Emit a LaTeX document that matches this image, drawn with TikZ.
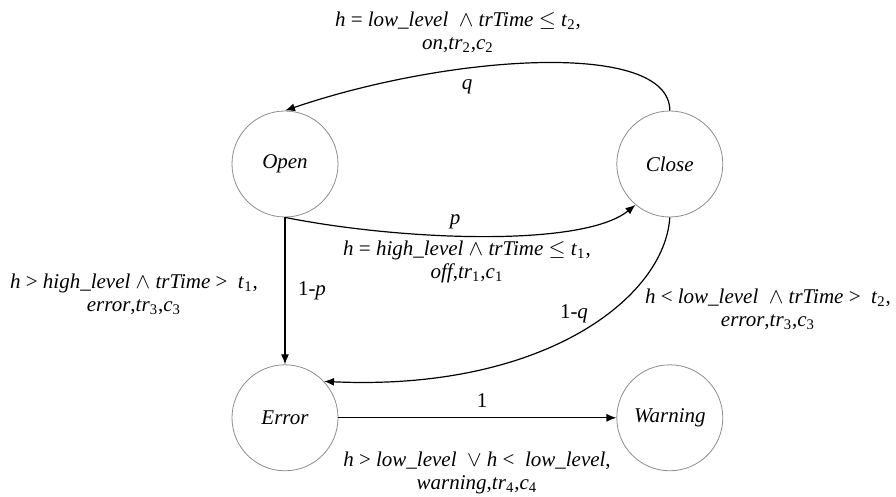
\documentclass[tikz,border=0pt]{standalone}
\usepackage{amsmath,amssymb}
\usepackage{fontspec}
\setmainfont{Liberation Serif}
\usepackage{xcolor}
\usepackage{tikz}
\usetikzlibrary{arrows.meta,positioning,calc}
\definecolor{ringgray}{HTML}{8C8C8C}
\newcommand{\vr}[1]{\textit{#1}}
\newcommand{\sub}[1]{\textsubscript{#1}}

\begin{document}
\begin{tikzpicture}[
  x=0.5pt,y=-0.5pt,
  state/.style={draw=ringgray,line width=0.4pt,circle,minimum size=53pt,inner sep=0pt,font=\fontsize{10.5}{11.5}\selectfont\itshape},
  trans/.style={draw=black,line width=0.6pt,-{Latex[length=5pt,width=4pt]}},
  lab/.style={inner sep=1pt,align=center,font=\fontsize{10.5}{11.5}\selectfont}
]
\useasboundingbox (0,0) rectangle (896,497);

\node[state] (open) at (285,164) {Open};
\node[state] (close) [right=139pt of open] {Close};
\node[state] (err) [below=73.5pt of open] {Error};
\node[state] (warn) [right=139pt of err] {Warning};

% transitions
\draw[trans] (close.north) .. controls +(0,-71) and +(164,-56) .. (open.north);
\draw[trans] (open.south) .. controls +(115,23) and +(-53,43) .. (close.230);
\draw[trans] (open.south) -- (err.north);
\draw[trans] (close.south) .. controls +(-5,80) and +(220,10) .. (err.43);
\draw[trans] (err.east) -- (warn.west);

% labels
\node[lab] (lq) at (467,87) {\vr{q}};
\node[lab] (ltop) at (458,32) {\vr{h} = \vr{low\_level}\ \ $\wedge$ \vr{trTime} $\le$ \vr{t}\sub{2},\\ \vr{on},\vr{tr}\sub{2},\vr{c}\sub{2}};
\node[lab] (lp) at (455,222) {\vr{p}};
\node[lab] (lmid) at (467,262) {\vr{h} = \vr{high\_level} $\wedge$ \vr{trTime} $\le$ \vr{t}\sub{1},\\ \vr{off},\vr{tr}\sub{1},\vr{c}\sub{1}};
\node[lab] (l1p) at (312,291) {1-\vr{p}};
\node[lab] (lleft) at (134,294) {\vr{h} > \vr{high\_level} $\wedge$ \vr{trTime} >\ \ \vr{t}\sub{1},\\ \vr{error},\vr{tr}\sub{3},\vr{c}\sub{3}};
\node[lab] (l1q) at (574,314) {1-\vr{q}};
\node[lab] (lright) at (768,309) {\vr{h} < \vr{low\_level}\ \ $\wedge$ \vr{trTime} >\ \ \vr{t}\sub{2},\\ \vr{error},\vr{tr}\sub{3},\vr{c}\sub{3}};
\node[lab] (lone) at (482,401) {1};
\node[lab] (lbot) at (477,473) {\vr{h} > \vr{low\_level}\ \ $\vee$ \vr{h} <\ \ \vr{low\_level},\\ \vr{warning},\vr{tr}\sub{4},\vr{c}\sub{4}};
\end{tikzpicture}
\end{document}
